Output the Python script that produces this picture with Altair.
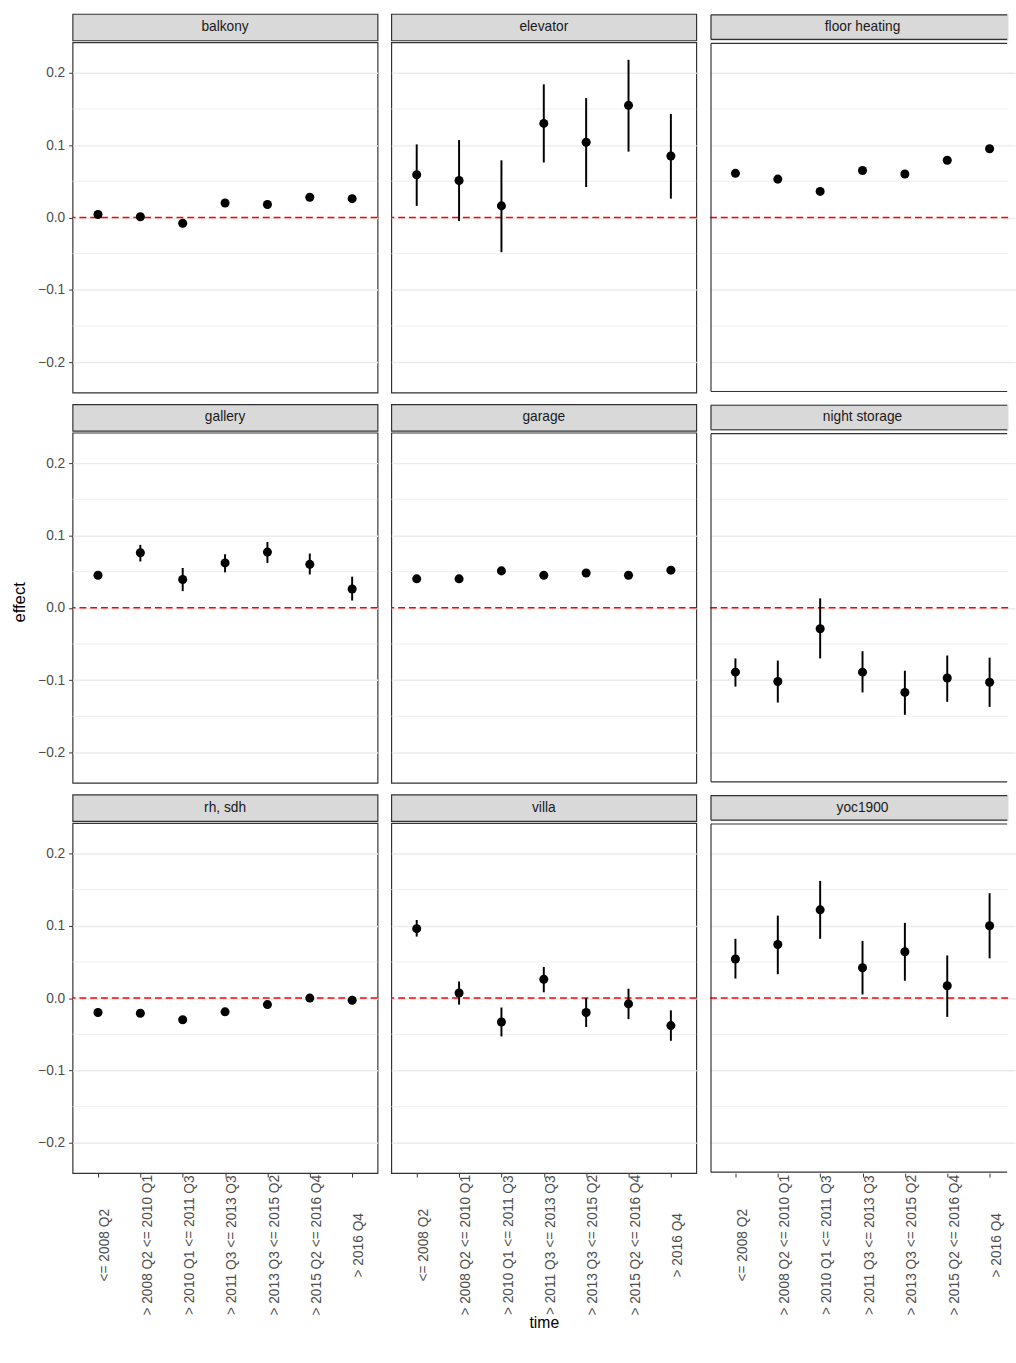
import altair as alt
import pandas as pd

FONT = "Liberation Sans"

periods = [
    "<= 2008 Q2",
    "> 2008 Q2 <= 2010 Q1",
    "> 2010 Q1 <= 2011 Q3",
    "> 2011 Q3 <= 2013 Q3",
    "> 2013 Q3 <= 2015 Q2",
    "> 2015 Q2 <= 2016 Q4",
    "> 2016 Q4",
]

features = [
    "balkony", "elevator", "floor heating",
    "gallery", "garage", "night storage",
    "rh, sdh", "villa", "yoc1900",
]

# point estimates per feature and period
effects = {
    "balkony":       [0.004, 0.001, -0.008, 0.020, 0.018, 0.028, 0.026],
    "elevator":      [0.059, 0.051, 0.016, 0.130, 0.104, 0.155, 0.085],
    "floor heating": [0.061, 0.053, 0.036, 0.065, 0.060, 0.079, 0.095],
    "gallery":       [0.045, 0.076, 0.039, 0.062, 0.077, 0.060, 0.026],
    "garage":        [0.040, 0.040, 0.051, 0.045, 0.048, 0.045, 0.052],
    "night storage": [-0.089, -0.102, -0.029, -0.089, -0.117, -0.097, -0.103],
    "rh, sdh":       [-0.020, -0.021, -0.030, -0.019, -0.009, 0.000, -0.003],
    "villa":         [0.096, 0.007, -0.033, 0.026, -0.020, -0.008, -0.038],
    "yoc1900":       [0.054, 0.074, 0.122, 0.042, 0.064, 0.017, 0.100],
}

# lower / upper interval bounds
lower = {
    "balkony":       [0.001, -0.002, -0.011, 0.017, 0.015, 0.025, 0.023],
    "elevator":      [0.016, -0.005, -0.048, 0.076, 0.042, 0.091, 0.026],
    "floor heating": [0.058, 0.050, 0.033, 0.062, 0.057, 0.076, 0.092],
    "gallery":       [0.040, 0.064, 0.023, 0.049, 0.062, 0.046, 0.010],
    "garage":        [0.037, 0.037, 0.048, 0.042, 0.045, 0.042, 0.049],
    "night storage": [-0.109, -0.131, -0.070, -0.117, -0.148, -0.130, -0.137],
    "rh, sdh":       [-0.023, -0.024, -0.033, -0.022, -0.012, -0.003, -0.006],
    "villa":         [0.085, -0.009, -0.053, 0.008, -0.040, -0.029, -0.059],
    "yoc1900":       [0.027, 0.033, 0.082, 0.005, 0.024, -0.026, 0.055],
}
upper = {
    "balkony":       [0.007, 0.004, -0.005, 0.023, 0.021, 0.031, 0.029],
    "elevator":      [0.101, 0.107, 0.079, 0.184, 0.165, 0.218, 0.143],
    "floor heating": [0.064, 0.056, 0.039, 0.068, 0.063, 0.082, 0.098],
    "gallery":       [0.050, 0.087, 0.055, 0.074, 0.091, 0.075, 0.043],
    "garage":        [0.043, 0.043, 0.054, 0.048, 0.051, 0.048, 0.055],
    "night storage": [-0.070, -0.073, 0.013, -0.060, -0.087, -0.066, -0.069],
    "rh, sdh":       [-0.017, -0.018, -0.027, -0.016, -0.006, 0.003, 0.000],
    "villa":         [0.108, 0.023, -0.013, 0.043, 0.000, 0.013, -0.017],
    "yoc1900":       [0.082, 0.114, 0.162, 0.079, 0.104, 0.059, 0.145],
}

y_ticks = [-0.2, -0.1, 0.0, 0.1, 0.2]
y_minor = [-0.15, -0.05, 0.05, 0.15]
y_domain = [-0.242, 0.242]
reference_level = [0.0]

W, H, SH = 311, 357, 27
W_LAST = 304          # right-hand column runs off the page edge
BORDER = "#333333"
BW = 1.2              # border line width
INSET = 1.0           # keeps frame strokes inside the view bounds


def open_frame(width, height):
    """Top, left and bottom border lines for a frame whose right side is cut."""
    one = pd.DataFrame({"k": [0]})
    style = dict(color=BORDER, strokeWidth=BW)
    top = alt.Chart(one).mark_rule(**style).encode(
        x=alt.value(INSET), x2=alt.value(width - INSET), y=alt.value(INSET))
    bottom = alt.Chart(one).mark_rule(**style).encode(
        x=alt.value(INSET), x2=alt.value(width - INSET),
        y=alt.value(height - INSET))
    left = alt.Chart(one).mark_rule(**style).encode(
        x=alt.value(INSET), y=alt.value(INSET), y2=alt.value(height - INSET))
    return [top, bottom, left]


def panel(i, name):
    row, col = divmod(i, 3)
    last = col == 2
    width = W_LAST if last else W
    df = pd.DataFrame({
        "time": periods,
        "effect": effects[name],
        "lo": lower[name],
        "hi": upper[name],
    })

    if row == 2:
        x_axis = alt.Axis(
            labelAngle=270, labelAlign="center", labelBaseline="top",
            labelPadding=69, tickSize=4, tickColor=BORDER,
            labelColor="#4D4D4D", labelFontSize=14, labelOverlap=False,
            labelLimit=300, domain=False,
            title="time" if col == 1 else None,
            titleFontSize=16, titleColor="black", titleFontWeight="normal",
            titlePadding=0,
        )
    else:
        x_axis = alt.Axis(labels=False, ticks=False, domain=False, title=None)

    if col == 0:
        y_axis = alt.Axis(
            values=y_ticks, tickSize=4, tickColor=BORDER, labelPadding=4,
            labelColor="#4D4D4D", labelFontSize=14, domain=False, title=None,
            labelExpr="replace(format(datum.value, '.1f'), '-', '\u2212')",
        )
    else:
        y_axis = alt.Axis(values=y_ticks, labels=False, ticks=False,
                          domain=False, title=None)

    x_scale = alt.Scale(type="point", domain=periods, padding=0.6,
                        range=[0, W])
    x_enc = alt.X("time:N", sort=periods, axis=x_axis, scale=x_scale)
    y_scale = alt.Scale(domain=y_domain, nice=False, zero=False)

    base = alt.Chart(df)

    minor = alt.Chart(pd.DataFrame({"v": y_minor})).mark_rule(
        color="#EBEBEB", strokeWidth=0.8
    ).encode(y=alt.Y("v:Q", scale=y_scale, axis=y_axis))

    zero = alt.Chart(pd.DataFrame({"v": reference_level})).mark_rule(
        color="#FF0000", strokeDash=[7, 4], strokeWidth=1.5
    ).encode(y=alt.Y("v:Q", scale=y_scale))

    bars = base.mark_rule(color="black", strokeWidth=2).encode(
        x=x_enc, y=alt.Y("lo:Q", scale=y_scale), y2="hi:Q"
    )

    points = base.mark_circle(size=85, color="black", opacity=1).encode(
        x=x_enc, y=alt.Y("effect:Q", scale=y_scale)
    )

    layers = [minor, zero, bars, points]
    if last:
        layers += open_frame(width, H)
        plot = alt.layer(*layers).properties(
            width=width, height=H,
            view=alt.ViewBackground(stroke="transparent"))
    else:
        plot = alt.layer(*layers).properties(width=width, height=H)

    label = alt.Chart(pd.DataFrame({"label": [name]})).mark_text(
        font=FONT, fontSize=14, color="#1A1A1A", baseline="middle"
    ).encode(text="label:N", x=alt.value(W / 2), y=alt.value(SH / 2))

    if last:
        strip = alt.layer(label, *open_frame(width, SH)).properties(
            width=width, height=SH,
            view=alt.ViewBackground(fill="#D9D9D9", stroke="transparent"))
    else:
        strip = label.properties(
            width=width, height=SH,
            view=alt.ViewBackground(fill="#D9D9D9", stroke=BORDER,
                                    strokeWidth=BW))

    return alt.vconcat(strip, plot, spacing=0)


rows = []
for r in range(3):
    rows.append(alt.hconcat(*[panel(r * 3 + c, features[r * 3 + c]) for c in range(3)],
                            spacing=10))
grid = alt.vconcat(*rows, spacing=10)

y_title = alt.Chart(pd.DataFrame({"t": ["effect"]})).mark_text(
    angle=270, font=FONT, fontSize=17, color="black", baseline="middle"
).encode(
    text="t:N", x=alt.value(20), y=alt.value(600)
).properties(width=25, height=1172,
             view=alt.ViewBackground(stroke="transparent"))

chart = alt.hconcat(y_title, grid, spacing=7).properties(
    padding={"left": 0, "top": 0, "right": 0, "bottom": 0},
    background="white",
).configure(
    font=FONT,
).configure_view(
    stroke=BORDER, strokeWidth=BW,
).configure_axis(
    gridColor="#EBEBEB", gridWidth=1.5, labelFont=FONT, titleFont=FONT,
)

chart.save("out.html", embed_options={"renderer": "svg", "actions": False})
